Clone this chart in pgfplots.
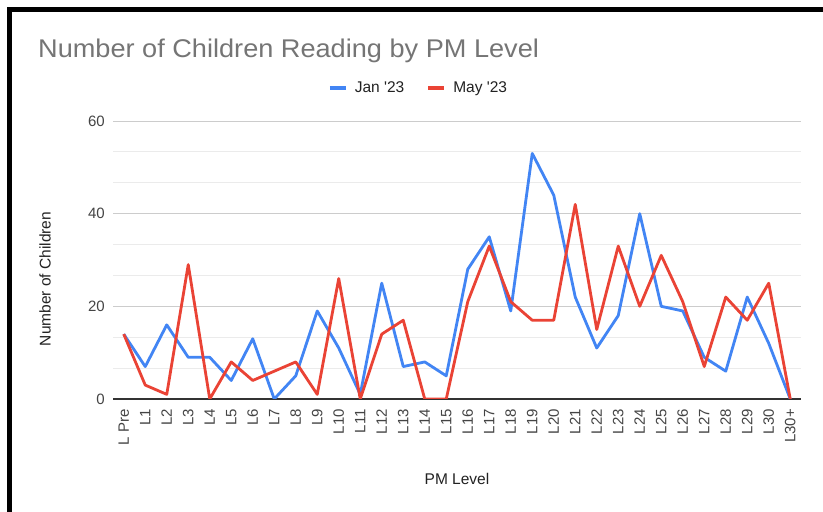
\documentclass[border=0pt]{standalone}
\usepackage{pgfplots}
\pgfplotsset{compat=1.18}
\usepackage{fontspec}
\setmainfont{Liberation Sans}
\definecolor{gblue}{HTML}{4285F4}
\definecolor{gred}{HTML}{EA4335}
\definecolor{titlegray}{HTML}{757575}
\definecolor{ticktext}{HTML}{444444}
\definecolor{labeltext}{HTML}{222222}
\definecolor{gridmajor}{HTML}{CCCCCC}
\definecolor{gridminor}{HTML}{EBEBEB}
\definecolor{baseline}{HTML}{333333}
\begin{document}
\begin{tikzpicture}
\useasboundingbox (0,0) rectangle (823bp,512bp);
\fill[white] (0,0) rectangle (823bp,512bp);
\draw[line width=5.5bp, line join=miter] (9.5bp,0) -- (9.5bp,502.5bp) -- (823bp,502.5bp);
\node[anchor=base west, inner sep=0pt, text=titlegray, font=\fontsize{25.6bp}{30bp}\selectfont, xscale=1.06] at (38bp,454.7bp) {Number of Children Reading by PM Level};
\begin{axis}[
  at={(113bp,113bp)}, anchor=south west, scale only axis,
  width=688bp, height=278bp,
  xmin=-0.5, xmax=31.5, ymin=0, ymax=60,
  xtick={0,...,31},
  xticklabels={L Pre,L1,L2,L3,L4,L5,L6,L7,L8,L9,L10,L11,L12,L13,L14,L15,L16,L17,L18,L19,L20,L21,L22,L23,L24,L25,L26,L27,L28,L29,L30,L30+},
  ytick={0,20,40,60}, minor y tick num=2,
  ymajorgrids, yminorgrids,
  major grid style={color=gridmajor, line width=1bp},
  minor grid style={color=gridminor, line width=1bp},
  axis line style={draw=none},
  major tick length=0pt, minor tick length=0pt,
  tick label style={font=\fontsize{15bp}{18bp}\selectfont, text=ticktext},
  /pgf/number format/assume math mode=true,
  xticklabel style={rotate=90, anchor=east, inner sep=0pt},
  xticklabel shift=10bp,
  yticklabel style={anchor=east, inner sep=0pt},
  yticklabel shift=8bp,
  extra y ticks={0}, extra y tick labels={},
  extra y tick style={grid=major, major grid style={color=baseline, line width=1.2bp}},
  xlabel={PM Level},
  ylabel={Number of Children},
  label style={font=\fontsize{15.5bp}{18bp}\selectfont, text=labeltext},
  xlabel style={at={(axis description cs:0.5,-0.2878)}, anchor=center},
  ylabel style={at={(axis description cs:-0.0988,0.4317)}, anchor=center},
  legend columns=-1,
  legend image code/.code={\draw[#1, line width=4bp, line cap=butt] (0bp,0bp) -- (16bp,0bp);},
  legend style={draw=none, fill=none, at={(axis description cs:0.444,1.119)}, anchor=center,
    font=\fontsize{15.5bp}{18bp}\selectfont, text=labeltext,
    /tikz/every odd column/.append style={column sep=5bp},
    /tikz/every even column/.append style={column sep=20bp}},
]
\addplot[gblue, line width=2.8bp, line join=round] coordinates {
(0,14)(1,7)(2,16)(3,9)(4,9)(5,4)(6,13)(7,0)(8,5)(9,19)(10,11)(11,1)(12,25)(13,7)(14,8)(15,5)
(16,28)(17,35)(18,19)(19,53)(20,44)(21,22)(22,11)(23,18)(24,40)(25,20)(26,19)(27,9)(28,6)(29,22)(30,12)(31,0)};
\addlegendentry{Jan \textquotesingle23}
\addplot[gred, line width=2.8bp, line join=round] coordinates {
(0,14)(1,3)(2,1)(3,29)(4,0)(5,8)(6,4)(7,6)(8,8)(9,1)(10,26)(11,0)(12,14)(13,17)(14,0)(15,0)
(16,21)(17,33)(18,21)(19,17)(20,17)(21,42)(22,15)(23,33)(24,20)(25,31)(26,21)(27,7)(28,22)(29,17)(30,25)(31,0)};
\addlegendentry{May \textquotesingle23}
\end{axis}
\end{tikzpicture}
\end{document}
